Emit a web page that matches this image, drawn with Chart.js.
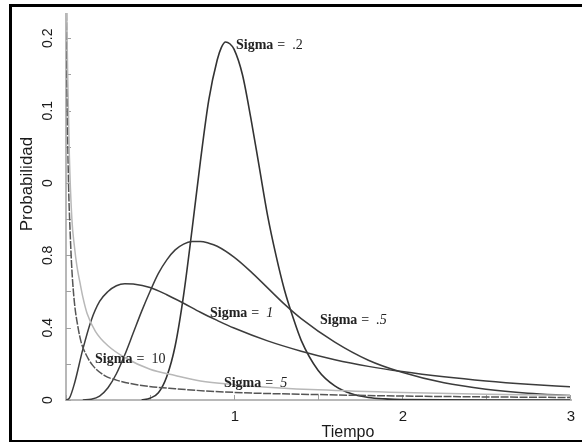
<!DOCTYPE html>
<html>
<head>
<meta charset="utf-8">
<title>Probabilidad vs Tiempo</title>
<script src="https://cdn.jsdelivr.net/npm/chart.js@4.4.0/dist/chart.umd.min.js"></script>
<style>
  html, body { margin: 0; padding: 0; background: #fff; }
  #wrap { width: 582px; height: 442px; }
</style>
</head>
<body>
<div id="wrap"><canvas id="myChart" width="582" height="442"></canvas></div>
<script>
// Curvas de densidad (tiempo en el eje X, probabilidad en el eje Y)
const tiempo02 = [0.45, 0.5, 0.55, 0.6, 0.65, 0.7, 0.75, 0.8, 0.85, 0.9, 0.925, 0.95, 0.975, 1.0, 1.05, 1.1, 1.15, 1.2, 1.25, 1.3, 1.35, 1.4, 1.5, 1.6, 1.7, 1.8, 1.9, 2.0, 2.5, 3.0];
const prob02   = [0.0, 0.01, 0.04, 0.13, 0.30, 0.58, 0.94, 1.32, 1.66, 1.88, 1.95, 1.98, 1.97, 1.94, 1.80, 1.56, 1.29, 1.02, 0.80, 0.61, 0.46, 0.33, 0.165, 0.078, 0.034, 0.014, 0.006, 0.002, 0.0, 0.0];

const tiempo05 = [0.1, 0.15, 0.2, 0.25, 0.3, 0.35, 0.4, 0.45, 0.5, 0.55, 0.6, 0.65, 0.7, 0.75, 0.8, 0.85, 0.9, 1.0, 1.1, 1.2, 1.3, 1.4, 1.6, 1.8, 2.0, 2.25, 2.5, 2.75, 3.0];
const prob05   = [0.0, 0.004, 0.022, 0.068, 0.145, 0.25, 0.37, 0.49, 0.60, 0.70, 0.775, 0.83, 0.862, 0.876, 0.877, 0.867, 0.85, 0.79, 0.71, 0.62, 0.53, 0.45, 0.32, 0.22, 0.153, 0.095, 0.06, 0.038, 0.025];

const tiempo1 = [0.0, 0.02, 0.05, 0.1, 0.15, 0.2, 0.25, 0.3, 0.35, 0.4, 0.5, 0.6, 0.7, 0.8, 0.9, 1.0, 1.2, 1.4, 1.6, 1.8, 2.0, 2.25, 2.5, 2.75, 3.0];
const prob1   = [0.0, 0.01, 0.09, 0.28, 0.44, 0.545, 0.60, 0.632, 0.643, 0.641, 0.622, 0.582, 0.535, 0.485, 0.44, 0.398, 0.327, 0.27, 0.223, 0.186, 0.157, 0.128, 0.105, 0.087, 0.073];

const tiempo5 = [0.004, 0.01, 0.02, 0.035, 0.05, 0.065, 0.083, 0.1, 0.125, 0.175, 0.25, 0.35, 0.5, 0.65, 0.8, 1.0, 1.25, 1.5, 2.0, 2.5, 3.0];
const prob5   = [2.14, 1.80, 1.35, 1.00, 0.85, 0.74, 0.65, 0.57, 0.48, 0.38, 0.30, 0.235, 0.17, 0.135, 0.105, 0.085, 0.068, 0.056, 0.041, 0.032, 0.026];

const tiempo10 = [0.003, 0.008, 0.015, 0.025, 0.035, 0.05, 0.07, 0.09, 0.12, 0.16, 0.23, 0.3, 0.43, 0.65, 1.0, 1.5, 2.0, 2.5, 3.0];
const prob10   = [2.14, 1.60, 1.20, 0.92, 0.72, 0.54, 0.41, 0.32, 0.25, 0.19, 0.135, 0.11, 0.083, 0.062, 0.042, 0.03, 0.022, 0.017, 0.014];

// Marcas y etiquetas de los ejes
const xMarcas = [0, 0.5, 1, 1.5, 2, 2.5, 3];
const xEtiquetasValor = [1, 2, 3];
const xEtiquetas = ['1', '2', '3'];
const yMarcas = [0, 0.2, 0.4, 0.6, 0.8, 1.0, 1.2, 1.4, 1.6, 1.8, 2.0];
const yEtiquetasValor = [0, 0.4, 0.8, 1.2, 1.6, 2.0];
const yEtiquetas = ['0', '0.4', '0.8', '0', '0.1', '0.2'];

// Rótulos de cada curva
const sigmaTextos = ['.2', '1', '.5', '10', '5'];
const sigmaCursiva = [false, true, true, false, true];
const sigmaPosX = [1.012, 0.857, 1.512, 0.173, 0.94];
const sigmaPosY = [1.96, 0.481, 0.442, 0.227, 0.094];

function puntos(xs, ys) {
  return xs.map((x, i) => ({ x: x, y: ys[i] }));
}

function serie(xs, ys, color, ancho, guiones) {
  return {
    data: puntos(xs, ys),
    showLine: true,
    fill: false,
    borderColor: color,
    borderWidth: ancho,
    borderDash: guiones || [],
    pointRadius: 0,
    cubicInterpolationMode: 'monotone'
  };
}

// Ejes, textos y marco dibujados a mano
const decoradoPlugin = {
  id: 'decorado',
  beforeDatasetsDraw(chart) {
    const { ctx, chartArea: a, scales: { x, y } } = chart;
    ctx.save();
    ctx.strokeStyle = '#b8b8b8';
    ctx.lineWidth = 2;
    ctx.beginPath();
    ctx.moveTo(a.left, a.top);
    ctx.lineTo(a.left, a.bottom);
    ctx.lineTo(a.right + 2, a.bottom);
    ctx.stroke();

    ctx.lineWidth = 1;
    ctx.strokeStyle = '#a0a0a0';
    yMarcas.forEach(v => {
      const py = Math.round(y.getPixelForValue(v)) + 0.5;
      ctx.beginPath();
      ctx.moveTo(a.left, py);
      ctx.lineTo(a.left + 5, py);
      ctx.stroke();
    });
    xMarcas.forEach(v => {
      const px = Math.round(x.getPixelForValue(v)) + 0.5;
      ctx.beginPath();
      ctx.moveTo(px, a.bottom);
      ctx.lineTo(px, a.bottom - 5);
      ctx.stroke();
    });
    ctx.restore();
  },
  afterDatasetsDraw(chart) {
    const { ctx, scales: { x, y } } = chart;
    ctx.save();
    ctx.fillStyle = '#1a1a1a';

    // etiquetas del eje Y, giradas
    ctx.font = '14px "Liberation Sans", Arial, sans-serif';
    ctx.textAlign = 'center';
    ctx.textBaseline = 'middle';
    yEtiquetasValor.forEach((v, i) => {
      ctx.save();
      ctx.translate(48, y.getPixelForValue(v));
      ctx.rotate(-Math.PI / 2);
      ctx.fillText(yEtiquetas[i], 0, 0);
      ctx.restore();
    });

    // etiquetas del eje X
    ctx.font = '15px "Liberation Sans", Arial, sans-serif';
    xEtiquetasValor.forEach((v, i) => {
      ctx.fillText(xEtiquetas[i], x.getPixelForValue(v) + 1, 417);
    });

    // títulos de los ejes
    ctx.font = '16px "Liberation Sans", Arial, sans-serif';
    ctx.fillText('Tiempo', 348, 433);
    ctx.save();
    ctx.translate(27, 184);
    ctx.rotate(-Math.PI / 2);
    ctx.font = '17px "Liberation Sans", Arial, sans-serif';
    ctx.fillText('Probabilidad', 0, 0);
    ctx.restore();

    // rótulos "Sigma = ..."
    ctx.textAlign = 'left';
    sigmaTextos.forEach((t, i) => {
      const px = x.getPixelForValue(sigmaPosX[i]);
      const py = y.getPixelForValue(sigmaPosY[i]);
      ctx.font = 'bold 14px "Liberation Serif", "Times New Roman", serif';
      ctx.fillStyle = '#222';
      ctx.fillText('Sigma', px, py);
      const w = ctx.measureText('Sigma').width;
      ctx.fillStyle = '#555';
      ctx.fillText('=', px + w + 4, py);
      ctx.fillStyle = '#222';
      ctx.font = (sigmaCursiva[i] ? 'italic ' : '') + '14px "Liberation Serif", "Times New Roman", serif';
      ctx.fillText(t, px + w + 19, py);
    });

    // marco negro exterior
    ctx.strokeStyle = '#000';
    ctx.lineWidth = 3;
    ctx.strokeRect(10.5, 5.5, 580, 436);
    ctx.restore();
  }
};

const ctx = document.getElementById('myChart').getContext('2d');
const chart = new Chart(ctx, {
  type: 'scatter',
  data: {
    datasets: [
      serie(tiempo5, prob5, '#b8b8b8', 1.5),
      serie(tiempo10, prob10, '#555555', 1.5, [8, 1.5]),
      serie(tiempo1, prob1, '#3c3c3c', 1.5),
      serie(tiempo05, prob05, '#3c3c3c', 1.5),
      serie(tiempo02, prob02, '#333333', 1.6)
    ]
  },
  options: {
    responsive: false,
    animation: false,
    devicePixelRatio: 1,
    layout: { padding: { left: 66, right: 12, top: 13, bottom: 42 } },
    plugins: {
      legend: { display: false },
      tooltip: { enabled: false }
    },
    scales: {
      x: { type: 'linear', min: 0, max: 3, display: false },
      y: { type: 'linear', min: 0, max: 2.14, display: false }
    }
  },
  plugins: [decoradoPlugin]
});
</script>
</body>
</html>
